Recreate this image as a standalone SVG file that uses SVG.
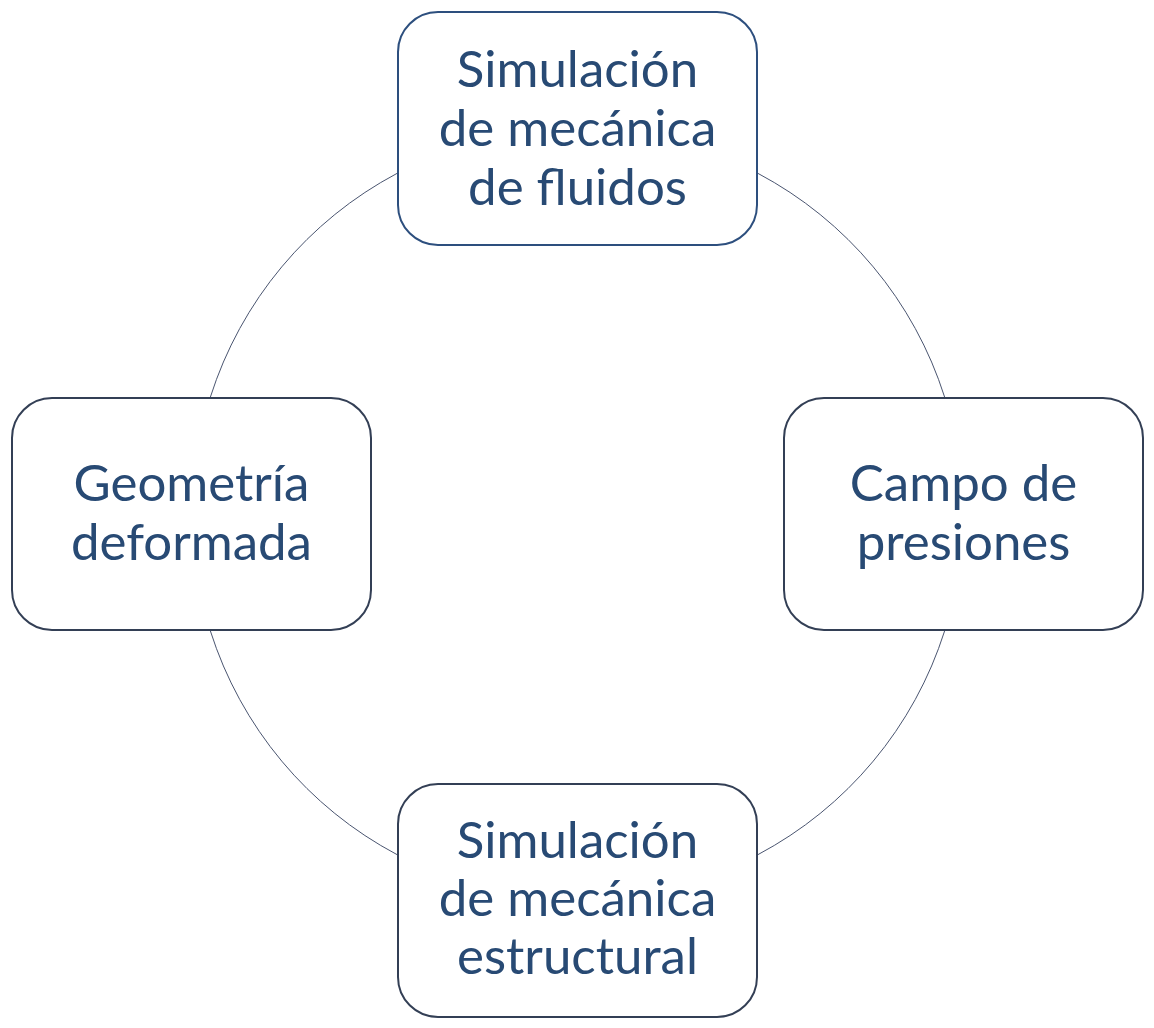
<svg xmlns="http://www.w3.org/2000/svg" width="1154" height="1028" viewBox="0 0 1154 1028">
<style>
.box{fill:#ffffff;stroke:#333f55;stroke-width:2}
.box.blue{stroke:#2d4f7e}
.lbl{font-family:Lato,"Open Sans",sans-serif;font-size:51px;fill:#284a74;text-anchor:middle}
.arc{fill:none;stroke:#4a5570;stroke-width:1}
</style>
<rect width="1154" height="1028" fill="#ffffff"/>
<g id="connectors">
<path class="arc" d="M 397 173.4 A 385 385 0 0 0 210.4 397"/>
<path class="arc" d="M 758 173.4 A 385 385 0 0 1 944.6 397"/>
<path class="arc" d="M 944.6 631 A 385 385 0 0 1 758 854.6"/>
<path class="arc" d="M 210.4 631 A 385 385 0 0 0 397 854.6"/>
</g>
<g id="node-fluidos">
<rect class="box blue" x="398" y="12" width="359" height="233" rx="40"/>
<text class="lbl" x="577.5" y="87">Simulación</text>
<text class="lbl" x="577.5" y="146">de mecánica</text>
<text class="lbl" x="577.5" y="205">de fluidos</text>
</g>
<g id="node-presiones">
<rect class="box" x="784" y="398" width="359" height="232" rx="40"/>
<text class="lbl" x="963.5" y="501">Campo de</text>
<text class="lbl" x="963.5" y="560">presiones</text>
</g>
<g id="node-estructural">
<rect class="box" x="398" y="784" width="359" height="233" rx="40"/>
<text class="lbl" x="577.5" y="858">Simulación</text>
<text class="lbl" x="577.5" y="916">de mecánica</text>
<text class="lbl" x="577.5" y="974">estructural</text>
</g>
<g id="node-geometria">
<rect class="box" x="12" y="398" width="359" height="232" rx="40"/>
<text class="lbl" x="191.5" y="501">Geometría</text>
<text class="lbl" x="191.5" y="560">deformada</text>
</g>
</svg>
